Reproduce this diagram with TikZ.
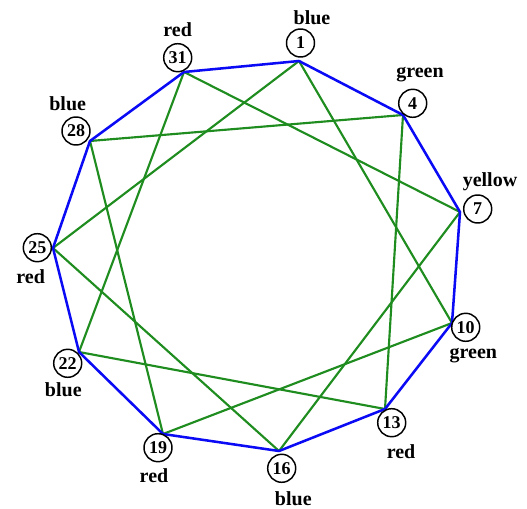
\documentclass[tikz,border=0pt]{standalone}
\usepackage{fontspec}
\setmainfont{Liberation Serif}
\usepackage{xcolor}
\usepackage{tikz}
\definecolor{rimblue}{HTML}{0A0AF5}
\definecolor{chordgreen}{HTML}{1E8C1E}

\tikzset{
  numcirc/.style={circle, draw=black, line width=1.1pt, fill=white, minimum size=21pt, inner sep=0pt, font=\fontsize{13.5}{13.5}\selectfont\bfseries},
  colname/.style={inner sep=0pt, font=\fontsize{15}{15}\selectfont\bfseries},
  rim/.style={draw=rimblue, line width=1.9pt, line join=round},
  chord/.style={draw=chordgreen, line width=1.6pt, line cap=round},
}

\begin{document}
\begin{tikzpicture}[x=0.75pt, y=-0.75pt]
  \useasboundingbox (0,0) rectangle (527,509);
  % corners of the ring
  \coordinate (v1) at (299,61);
  \coordinate (v4) at (403,115);
  \coordinate (v7) at (460,212);
  \coordinate (v10) at (452,323);
  \coordinate (v13) at (385,409);
  \coordinate (v16) at (279,451);
  \coordinate (v19) at (163,434);
  \coordinate (v22) at (79,352);
  \coordinate (v25) at (53,248);
  \coordinate (v28) at (90,141);
  \coordinate (v31) at (184,72);
  % green chords, three steps round
  \draw[chord] (v1) -- (v10);
  \draw[chord] (v4) -- (v13);
  \draw[chord] (v7) -- (v16);
  \draw[chord] (v10) -- (v19);
  \draw[chord] (v13) -- (v22);
  \draw[chord] (v16) -- (v25);
  \draw[chord] (v19) -- (v28);
  \draw[chord] (v22) -- (v31);
  \draw[chord] (v25) -- (v1);
  \draw[chord] (v28) -- (v4);
  \draw[chord] (v31) -- (v7);
  % blue rim
  \draw[rim] (v1) -- (v4) -- (v7) -- (v10) -- (v13) -- (v16) -- (v19) -- (v22) -- (v25) -- (v28) -- (v31) -- cycle;
  % numbered circles
  \node[numcirc] (n1) at (300.5,43) {1};
  \node[numcirc] (n4) at (412.7,103.3) {4};
  \node[numcirc] (n7) at (477.7,209) {7};
  \node[numcirc] (n10) at (465.7,327.3) {10};
  \node[numcirc] (n13) at (391.7,422.7) {13};
  \node[numcirc] (n16) at (281.7,468.3) {16};
  \node[numcirc] (n19) at (158,447.7) {19};
  \node[numcirc] (n22) at (67.7,363.3) {22};
  \node[numcirc] (n25) at (37.3,247.7) {25};
  \node[numcirc] (n28) at (76,131) {28};
  \node[numcirc] (n31) at (177.7,57.7) {31};
  % colour names
  \node[colname] (t1) at (312,18) {blue};
  \node[colname] (t4) at (420,75) {green};
  \node[colname] (t7) at (490,182) {yellow};
  \node[colname] (t10) at (473.3,356) {green};
  \node[colname] (t13) at (401,451.7) {red};
  \node[colname] (t16) at (293.3,499) {blue};
  \node[colname] (t19) at (154,476) {red};
  \node[colname] (t22) at (63.3,390) {blue};
  \node[colname] (t25) at (30.7,276.7) {red};
  \node[colname] (t28) at (67.7,104) {blue};
  \node[colname] (t31) at (177.7,29.3) {red};
\end{tikzpicture}
\end{document}
